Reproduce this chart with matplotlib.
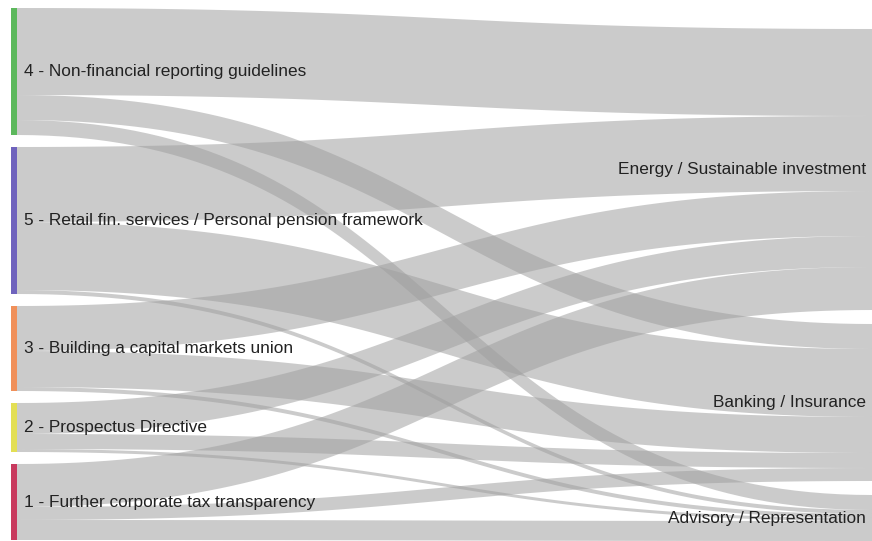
import numpy as np
import matplotlib.pyplot as plt

plt.rcParams['font.family'] = ['Liberation Sans', 'DejaVu Sans']

left_names = ["4 - Non-financial reporting guidelines",
              "5 - Retail fin. services / Personal pension framework",
              "3 - Building a capital markets union",
              "2 - Prospectus Directive",
              "1 - Further corporate tax transparency"]
left_colors = ["#5cb85c", "#6f63bd", "#f0905a", "#e3df55", "#c83a5e"]
right_names = ["Energy / Sustainable investment",
               "Banking / Insurance",
               "Advisory / Representation"]

# flows: rows = left nodes, columns = Energy, Banking, Advisory
flows = np.array([
    [87, 25, 15],
    [75, 68, 4],
    [45, 36, 4],
    [31, 15, 3],
    [43, 13, 20],
])

W, H = 872, 541
fig = plt.figure(figsize=(W / 100, H / 100), dpi=100)
ax = fig.add_axes([0, 0, 1, 1])
ax.set_xlim(0, W)
ax.set_ylim(H, 0)
ax.axis("off")

# layout
x_bar0, x_bar1 = 11, 17
x_right = 872
left_tot = flows.sum(axis=1)
right_tot = flows.sum(axis=0)
left_top = 8 + np.concatenate([[0], np.cumsum(left_tot + 12)[:-1]])
right_top = 29 + np.concatenate([[0], np.cumsum(right_tot + 14)[:-1]])


def curve(ya, yb, n=80):
    t = np.linspace(0, 1, n)
    xm = (x_bar1 + x_right) / 2
    x = (1 - t) ** 3 * x_bar1 + 3 * (1 - t) ** 2 * t * xm + 3 * (1 - t) * t ** 2 * xm + t ** 3 * x_right
    s = 3 * t ** 2 - 2 * t ** 3
    return x, ya + (yb - ya) * s


# source offsets go by target order, target offsets by source order
src_off = left_top.astype(float).copy()
tgt_off = right_top.astype(float).copy()
src_pos = np.zeros(flows.shape)
tgt_pos = np.zeros(flows.shape)
for i in range(flows.shape[0]):
    for j in range(flows.shape[1]):
        src_pos[i, j] = src_off[i]
        src_off[i] += flows[i, j]
for j in range(flows.shape[1]):
    for i in range(flows.shape[0]):
        tgt_pos[i, j] = tgt_off[j]
        tgt_off[j] += flows[i, j]

for i in range(flows.shape[0]):
    for j in range(flows.shape[1]):
        v = flows[i, j]
        xt, yt = curve(src_pos[i, j], tgt_pos[i, j])
        xb, yb = curve(src_pos[i, j] + v, tgt_pos[i, j] + v)
        ax.fill(np.concatenate([xt, xb[::-1]]), np.concatenate([yt, yb[::-1]]),
                color="#a0a0a0", alpha=0.54, lw=0)

for i, name in enumerate(left_names):
    ax.fill_between([x_bar0, x_bar1], left_top[i], left_top[i] + left_tot[i],
                    color=left_colors[i], lw=0)
    ax.text(24, left_top[i] + left_tot[i] / 2, name, fontsize=12.4,
            color="#222222", va="center", ha="left")

for j, name in enumerate(right_names):
    ax.text(866, right_top[j] + right_tot[j] / 2, name, fontsize=12.4,
            color="#222222", va="center", ha="right")

fig.savefig("out.png", dpi=100)
